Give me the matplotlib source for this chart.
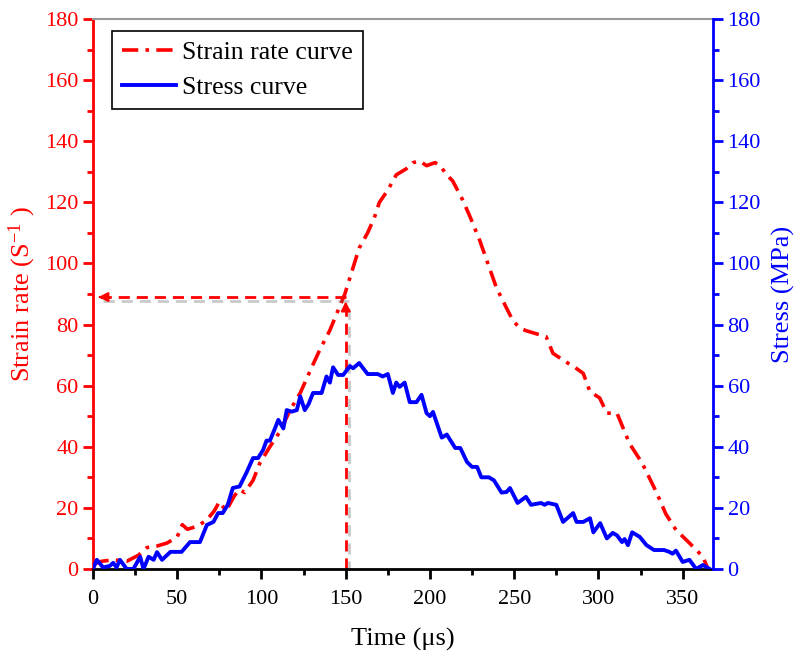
import numpy as np
import matplotlib
matplotlib.use("Agg")
import matplotlib.pyplot as plt
import matplotlib.patheffects as pe
from matplotlib.ticker import MultipleLocator

plt.rcParams['font.family'] = ['Liberation Serif', 'DejaVu Serif']
plt.rcParams['mathtext.default'] = 'regular'

# strain rate curve (left axis)
t_rate = [0, 5, 12, 20, 27, 32, 38, 44, 50, 53, 56, 62, 67.5, 72, 75, 79, 84, 87, 90, 95,
          99, 105, 111, 117, 123, 129, 134.6, 140.5, 145, 149.5, 154, 158, 163, 167, 170,
          175, 180, 186, 190, 194, 198, 203, 206, 210, 213.5, 219.5, 224, 229.5, 235,
          239.5, 244, 249, 253, 257, 263, 269, 273, 280, 286, 291, 295, 300.7, 305, 311,
          318.5, 326, 334.5, 340, 346, 354, 362, 365]
rate = [1.5, 2.5, 3, 2.5, 4.5, 7, 7.5, 8.5, 10.5, 14.5, 13, 14, 16, 19, 22, 19, 24, 26, 25, 29,
        34.6, 40, 45, 52, 57.6, 65, 71.7, 78, 84, 90, 98, 105, 110, 115, 120,
        124, 129, 131, 133, 133.5, 132, 133, 132, 129, 127, 120.7, 115, 107.6, 99,
        92, 87, 81.5, 79, 78, 77, 76, 70.6, 68, 66, 64, 58, 56, 51, 51,
        41, 34.6, 25, 18, 12.8, 8.5, 4, 0]

# stress curve (right axis)
t_stress = [0, 2.3, 6, 10, 12, 14, 16, 20, 24, 28, 30, 33, 36, 38, 41, 46, 52.6, 57.6, 63.5,
            67.6, 71.5, 74.3, 77, 80, 83, 87, 91, 95, 98, 101, 103, 105, 108, 110, 113, 115,
            118, 121, 123, 125.7, 128, 130.6, 135.7, 138.6, 140.6, 142.5, 145.5, 148.5,
            152.5, 154.4, 158, 163, 169, 172, 175, 178, 180, 182, 185, 188, 192, 195, 198,
            200, 201.8, 207, 210, 215, 218, 222, 225, 228, 230.5, 235, 238, 242.5, 245.5,
            247.5, 252, 257, 260, 266, 268, 270, 275, 279, 285, 287, 291, 295, 297, 301,
            305, 308.5, 311, 314, 315.5, 317.5, 320, 324.5, 328.5, 333, 339, 342, 344, 346,
            350, 354, 358, 362, 366]
stress = [0, 3, 0.5, 1, 2, 0.5, 3, 0, 0, 4, 0, 4, 3, 5.5, 3, 5.6, 5.6, 8.8, 8.8,
          14.4, 15.4, 18.3, 18.3, 21, 26.5, 27, 31.4, 36.3, 36.3, 39, 42, 42, 46, 48.8, 46, 52,
          51.5, 52, 56.5, 52, 54, 57.6, 57.6, 63, 61, 66, 63.5, 63.5,
          66.4, 65.7, 67.4, 63.8, 63.8, 63, 63.8, 57.6, 61, 59.6, 61, 54.6, 54.6, 57, 51,
          50, 51.4, 43, 44, 39.6, 39.6, 35, 33.4, 33.4, 30, 30, 29, 25, 25.2,
          26.5, 21.6, 23.6, 21, 21.6, 21, 21.6, 21, 15.4, 18.3, 15.4, 15.4, 16.6, 12, 15,
          10, 11.8, 11, 8.8, 9.8, 7.8, 12, 10.5, 7.8, 6.2, 6.2, 5.6, 5, 6,
          2.3, 3, 0, 1.3, 0]

mark_t = 150
mark_rate = 89

red = '#ff0000'
blue = '#0000ff'

fig = plt.figure(figsize=(7.98, 6.58), dpi=100)
ax = fig.add_axes([0.1165, 0.1353, 0.777, 0.8358])
ax2 = ax.twinx()

l1, = ax.plot(t_rate, rate, color=red, lw=2.6, dashes=(4.5, 2, 1, 2), label='Strain rate curve')
l2, = ax2.plot(t_stress, stress, color=blue, lw=2.8, label='Stress curve')

# guide lines with arrows
shadow = [pe.SimpleLineShadow(offset=(2.5, -2.5), shadow_color='0.4', alpha=0.35), pe.Normal()]
ax.plot([mark_t, 3], [mark_rate, mark_rate], color=red, lw=2, dashes=(4, 2.5), path_effects=shadow)
ax.plot([mark_t, mark_t], [0, mark_rate - 2], color=red, lw=2, dashes=(4, 2.5), path_effects=shadow)
ax.annotate('', xy=(1.5, mark_rate), xytext=(6, mark_rate),
            arrowprops=dict(arrowstyle='-|>', color=red, lw=1.5, mutation_scale=14))
ax.annotate('', xy=(mark_t, mark_rate - 0.5), xytext=(mark_t, mark_rate - 4),
            arrowprops=dict(arrowstyle='-|>', color=red, lw=1.5, mutation_scale=14))

for a in (ax, ax2):
    a.set_xlim(0, 368)
    a.set_ylim(0, 180)
    a.yaxis.set_major_locator(MultipleLocator(20))
    a.yaxis.set_minor_locator(MultipleLocator(10))

ax.xaxis.set_major_locator(MultipleLocator(50))
ax.xaxis.set_minor_locator(MultipleLocator(25))

ax.spines['left'].set_color(red)
ax.spines['left'].set_linewidth(2)
ax.spines['bottom'].set_color('black')
ax.spines['bottom'].set_linewidth(2)
ax.spines['top'].set_color('0.6')
ax.spines['top'].set_linewidth(1.5)
ax.spines['right'].set_visible(False)
ax2.spines['right'].set_color(blue)
ax2.spines['right'].set_linewidth(2)
for s in ('left', 'top', 'bottom'):
    ax2.spines[s].set_visible(False)

ax.tick_params(axis='y', which='both', colors=red, width=2, labelsize=16, direction='out')
ax.tick_params(axis='y', which='major', length=7)
ax.tick_params(axis='y', which='minor', length=4)
ax.tick_params(axis='x', which='both', colors='black', width=2, labelsize=16, direction='out')
ax.tick_params(axis='x', which='major', length=7, pad=8)
ax.tick_params(axis='x', which='minor', length=4)
ax2.tick_params(axis='y', which='both', colors=blue, width=2, labelsize=16, direction='out')
ax2.tick_params(axis='y', which='major', length=7)
ax2.tick_params(axis='y', which='minor', length=4)

ax.set_xlabel('Time (μs)', fontsize=19, labelpad=14)
ax.set_ylabel('Strain rate (S$^{-1}$ )', fontsize=19, color=red, labelpad=5)
ax2.set_ylabel('Stress (MPa)', fontsize=19, color=blue, labelpad=8)

leg = ax.legend(handles=[l1, l2], loc='upper left', bbox_to_anchor=(0.031, 0.978),
                borderaxespad=0, fontsize=18.5, fancybox=False, edgecolor='black',
                framealpha=1, handlelength=2.1, handletextpad=0.2, borderpad=0.4,
                labelspacing=0.45)
leg.get_frame().set_linewidth(1.2)
leg.set_zorder(10)

fig.savefig('out.png', dpi=100)
